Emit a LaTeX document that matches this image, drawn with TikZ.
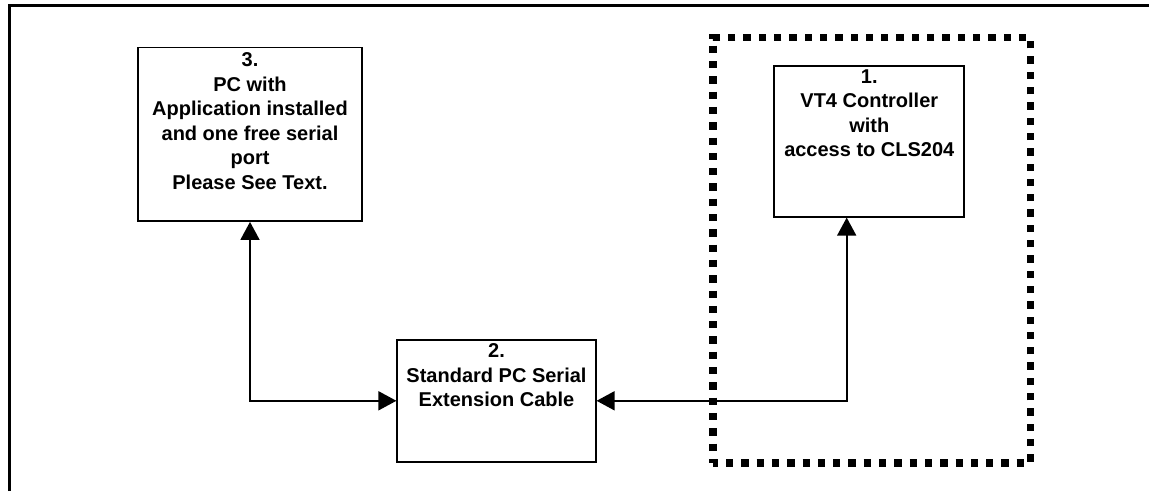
\documentclass[tikz,border=0pt]{standalone}
\usepackage{fontspec}
\setmainfont{Liberation Sans}
\usetikzlibrary{arrows.meta}
\tikzset{
  box/.style={draw=black, line width=1.8pt, rectangle, inner sep=0pt},
  boxtext/.style={anchor=north, inner sep=0pt, align=center,
    font=\fontsize{20}{24.5}\selectfont\bfseries},
  link/.style={draw=black, line width=1.7pt,
    {Triangle[length=18pt,width=19pt]}-{Triangle[length=18pt,width=19pt]}},
  groupbox/.style={draw=black, line width=7.5pt, dash pattern=on 7.3pt off 8pt,
    dash phase=2.3pt, rectangle, inner sep=0pt},
  frame/.style={draw=black, line width=3.5pt}
}
\begin{document}
\begin{tikzpicture}[x=1pt,y=-1pt]
\useasboundingbox (0,0) rectangle (1149,491);
% outer frame
\draw[frame] (9.5,491) -- (9.5,5.3) -- (1149,5.3);
% group box
\node[groupbox, minimum width=317.5pt, minimum height=425.5pt] (grp) at (871.75,250.25) {};
% boxes
\node[box, minimum width=224.5pt, minimum height=173.5pt] (b3) at (250,134.25) {};
\node[box, minimum width=190pt, minimum height=151pt] (b1) at (869.3,141.2) {};
\node[box, minimum width=198.4pt, minimum height=121.7pt] (b2) at (496.5,400.8) {};
% texts
\node[boxtext] (t3) at ([yshift=-6pt]b3.north) {3.\\PC with\\Application installed\\and one free serial\\port\\Please See Text.};
\node[boxtext] (t1) at ([yshift=-4.5pt]b1.north) {1.\\VT4 Controller\\with\\access to CLS204};
\node[boxtext] (t2) at ([yshift=-4.5pt]b2.north) {2.\\Standard PC Serial\\Extension Cable};
% connectors
\coordinate (b1s) at ([xshift=-22.6pt]b1.south);
\draw[link] (b3.south) |- (b2.west);
\draw[link] (b1s) |- (b2.east);
\end{tikzpicture}
\end{document}
